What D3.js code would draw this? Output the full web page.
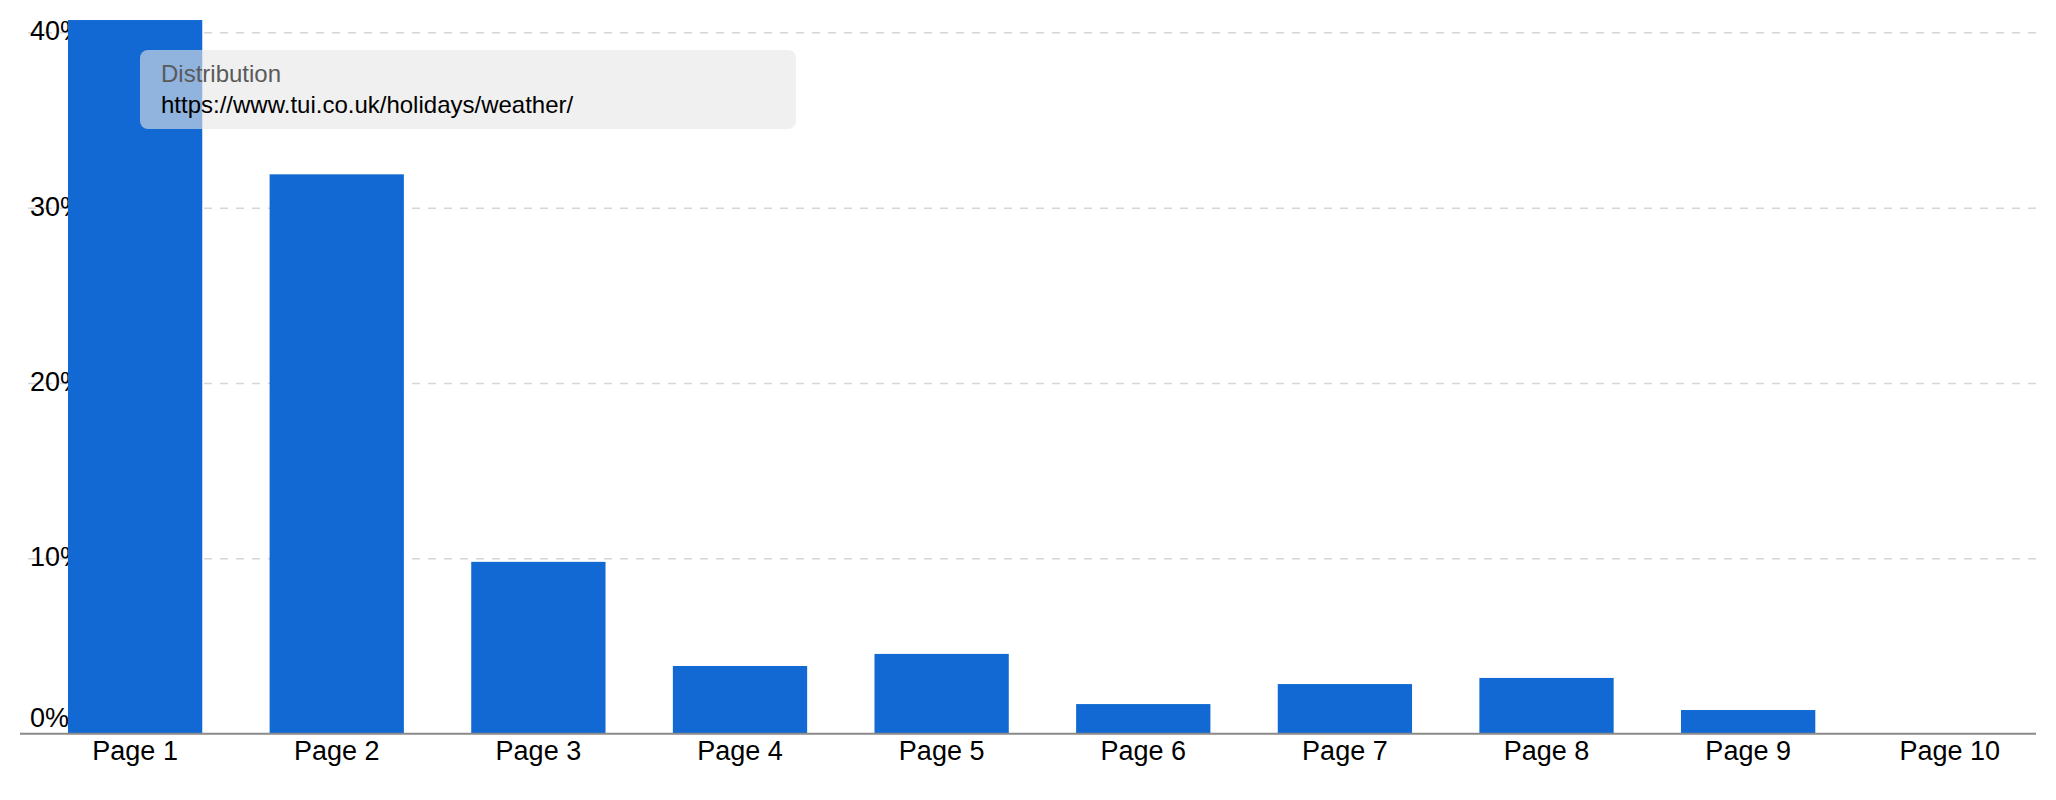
<!DOCTYPE html>
<html>
<head>
<meta charset="utf-8">
<script src="https://cdn.jsdelivr.net/npm/d3@7"></script>
<style>
  body { margin: 0; background: #fff; }
  svg { display: block; font-family: Arial, "Liberation Sans", sans-serif; }
</style>
</head>
<body>
<div id="chart"></div>
<script>
// values
const categories = ['Page 1', 'Page 2', 'Page 3', 'Page 4', 'Page 5', 'Page 6', 'Page 7', 'Page 8', 'Page 9', 'Page 10'];
const shares = [40.7, 31.9, 9.8, 3.86, 4.55, 1.69, 2.83, 3.18, 1.35, 0];
const yTicks = [0, 10, 20, 30, 40];
const tooltipTitle = 'Distribution';
const tooltipText = 'https://www.tui.co.uk/holidays/weather/';

const W = 2056, H = 800;
const svg = d3.select('#chart').append('svg')
  .attr('width', W)
  .attr('height', H);

const x = d3.scaleBand()
  .domain(categories)
  .range([34.3, 2050.6])
  .paddingInner(0.334)
  .paddingOuter(0.167);

const y = d3.scaleLinear()
  .domain([0, 40])
  .range([733.7, 32.3]);

const left = 20, right = 2036;

// dashed grid lines
svg.append('g')
  .attr('transform', `translate(${right},0)`)
  .call(d3.axisLeft(y)
    .tickValues(yTicks.filter(d => d > 0))
    .tickSize(right - left)
    .tickFormat(''))
  .call(g => g.select('.domain').remove())
  .selectAll('line')
  .attr('stroke', '#d6d6d6')
  .attr('stroke-width', 1.5)
  .attr('stroke-dasharray', '8,8');

// y labels sit under the bars, left aligned
svg.append('g')
  .call(d3.axisLeft(y).tickValues(yTicks).tickFormat(d => d + '%'))
  .call(g => g.select('.domain').remove())
  .call(g => g.selectAll('line').remove())
  .selectAll('text')
  .attr('x', 30)
  .attr('dy', d => d === 0 ? '-0.25em' : '0.28em')
  .attr('text-anchor', 'start')
  .attr('font-family', 'Arial, "Liberation Sans", sans-serif')
  .attr('font-size', '27px')
  .attr('fill', '#000');

// bars
svg.selectAll('.bar')
  .data(categories)
  .enter()
  .append('rect')
  .attr('class', 'bar')
  .attr('x', d => x(d))
  .attr('width', x.bandwidth())
  .attr('y', (d, i) => y(shares[i]))
  .attr('height', (d, i) => y(0) - y(shares[i]))
  .attr('fill', '#1269d3');

// baseline
svg.append('line')
  .attr('x1', left)
  .attr('x2', right)
  .attr('y1', y(0))
  .attr('y2', y(0))
  .attr('stroke', '#8a8a8a')
  .attr('stroke-width', 2);

// x labels
svg.append('g')
  .attr('transform', `translate(0,${y(0)})`)
  .call(d3.axisBottom(x).tickSize(0))
  .call(g => g.select('.domain').remove())
  .selectAll('text')
  .attr('y', 26.5)
  .attr('dy', 0)
  .attr('font-family', 'Arial, "Liberation Sans", sans-serif')
  .attr('font-size', '27px')
  .attr('fill', '#000');

// tooltip box
const tip = svg.append('g');
tip.append('rect')
  .attr('x', 140)
  .attr('y', 50)
  .attr('width', 656)
  .attr('height', 79)
  .attr('rx', 8)
  .attr('fill', 'rgba(230,230,230,0.6)');
tip.append('text')
  .attr('x', 161)
  .attr('y', 82)
  .attr('font-size', '24px')
  .attr('fill', '#5a5a5a')
  .text(tooltipTitle);
tip.append('text')
  .attr('x', 161)
  .attr('y', 113)
  .attr('font-size', '24px')
  .attr('fill', '#000')
  .text(tooltipText);
</script>
</body>
</html>
